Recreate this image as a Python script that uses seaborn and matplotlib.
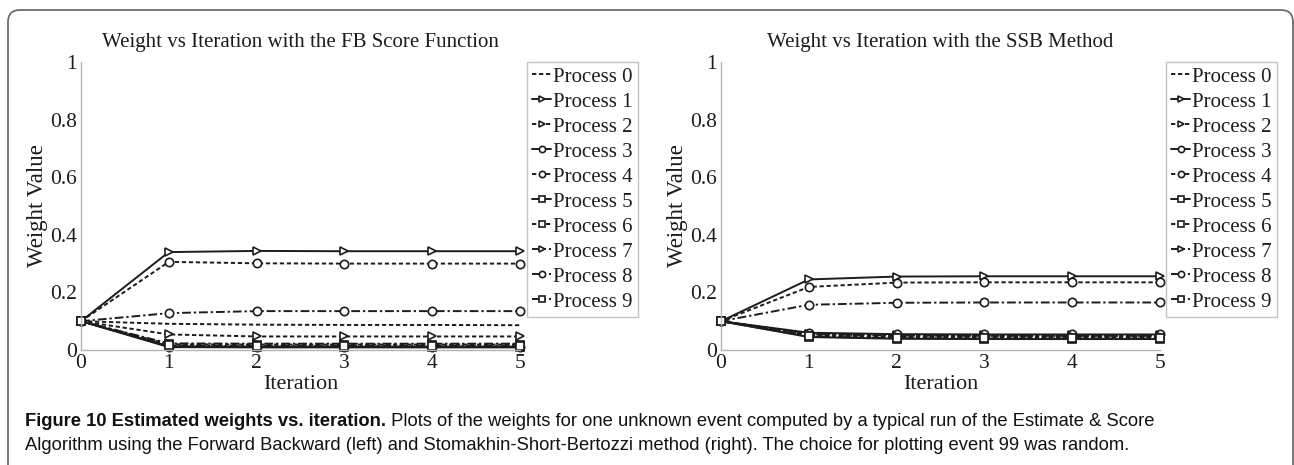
import matplotlib
matplotlib.use("Agg")
import matplotlib.pyplot as plt
import matplotlib.transforms as mtransforms
from matplotlib.patches import FancyBboxPatch
import seaborn as sns
import pandas as pd

# ---------------------------------------------------------------- data
iterations = [0, 1, 2, 3, 4, 5]
process_labels = [f"Process {i}" for i in range(10)]

# Forward-Backward score function
fb_weights = [
    [0.100, 0.091, 0.088, 0.087, 0.087, 0.086],
    [0.100, 0.340, 0.344, 0.343, 0.343, 0.343],
    [0.100, 0.054, 0.047, 0.047, 0.047, 0.047],
    [0.100, 0.010, 0.009, 0.009, 0.009, 0.009],
    [0.100, 0.306, 0.301, 0.300, 0.300, 0.300],
    [0.100, 0.013, 0.012, 0.012, 0.012, 0.012],
    [0.100, 0.020, 0.019, 0.019, 0.019, 0.019],
    [0.100, 0.023, 0.022, 0.022, 0.022, 0.022],
    [0.100, 0.128, 0.135, 0.135, 0.135, 0.135],
    [0.100, 0.016, 0.015, 0.015, 0.015, 0.015],
]

# Stomakhin-Short-Bertozzi method
ssb_weights = [
    [0.100, 0.052, 0.047, 0.046, 0.046, 0.046],
    [0.100, 0.245, 0.255, 0.256, 0.256, 0.256],
    [0.100, 0.057, 0.052, 0.051, 0.051, 0.051],
    [0.100, 0.060, 0.055, 0.054, 0.054, 0.054],
    [0.100, 0.219, 0.234, 0.235, 0.235, 0.235],
    [0.100, 0.045, 0.039, 0.038, 0.038, 0.038],
    [0.100, 0.049, 0.043, 0.042, 0.042, 0.042],
    [0.100, 0.055, 0.050, 0.049, 0.049, 0.049],
    [0.100, 0.157, 0.164, 0.165, 0.165, 0.165],
    [0.100, 0.047, 0.041, 0.040, 0.040, 0.040],
]

titles = ["Weight vs Iteration with the FB Score Function",
          "Weight vs Iteration with the SSB Method"]

caption_bold = "Figure 10 Estimated weights vs. iteration."
caption_rest = (" Plots of the weights for one unknown event computed by a typical run of the Estimate & Score")
caption_line2 = ("Algorithm using the Forward Backward (left) and Stomakhin-Short-Bertozzi method (right). "
                 "The choice for plotting event 99 was random.")

# ---------------------------------------------------------------- styles
DOT = (2.2, 1.4)
DASHDOT = (4.5, 1.5, 1.2, 1.5)
line_dashes = [DOT, None, DOT, None, DOT, None, DOT, DASHDOT, DASHDOT, DASHDOT]
line_markers = [None, ">", ">", "o", "o", "s", "s", ">", "o", "s"]
INK = "#1c1c1c"
AXIS_GREY = "#b4b4b4"

sns.set_style("white")
plt.rcParams["font.family"] = ["Liberation Serif", "DejaVu Serif"]
plt.rcParams["mathtext.default"] = "regular"

W, H = 1294, 465
fig = plt.figure(figsize=(W / 100, H / 100), dpi=100)
fig.patch.set_facecolor("white")


def px_axes(x0, x1, y_top, y_bot):
    return [x0 / W, 1 - y_bot / H, (x1 - x0) / W, (y_bot - y_top) / H]


panels = [
    (fb_weights, px_axes(81, 520, 62, 350), 527),
    (ssb_weights, px_axes(721, 1160, 62, 350), 1166),
]

for (weights, rect, leg_x), title in zip(panels, titles):
    ax = fig.add_axes(rect)
    for label, series, dash, marker in zip(process_labels, weights, line_dashes, line_markers):
        df = pd.DataFrame({"Iteration": iterations, "Weight": series})
        sns.lineplot(
            data=df, x="Iteration", y="Weight", ax=ax, label=label,
            color=INK, lw=1.4, marker=marker if marker else "",
            markersize=6, markeredgewidth=1.2, markerfacecolor="white",
            markeredgecolor=INK, clip_on=False, legend=False,
        )
        line = ax.lines[-1]
        if dash is not None:
            line.set_dashes(dash)
    ax.set_xlim(0, 5)
    ax.set_ylim(0, 1)
    ax.set_xticks(iterations)
    ax.set_xticklabels([str(i) for i in iterations])
    ax.set_yticks([0, 0.2, 0.4, 0.6, 0.8, 1.0])
    ax.set_yticklabels(["0", "0.2", "0.4", "0.6", "0.8", "1"])
    ax.tick_params(direction="in", length=4, width=0.8, color=AXIS_GREY,
                   labelsize=15.5, labelcolor=INK, pad=3)
    for side in ("top", "right"):
        ax.spines[side].set_visible(False)
    for side in ("left", "bottom"):
        ax.spines[side].set_color(AXIS_GREY)
        ax.spines[side].set_linewidth(1.0)
    ax.set_xlabel("Iteration", fontsize=16, color=INK, labelpad=1)
    ax.set_ylabel("Weight Value", fontsize=16.5, color=INK, labelpad=1.5)
    ax.set_title(title, fontsize=15, color=INK, pad=11)

    handles = ax.lines[:len(process_labels)]
    leg = ax.legend(
        handles, process_labels, loc="upper left",
        bbox_to_anchor=(leg_x / W, 1 - 62 / H), bbox_transform=fig.transFigure,
        borderaxespad=0, fontsize=15, handlelength=0.9, handletextpad=0.1,
        labelspacing=0.26, borderpad=0.25, markerscale=0.75, frameon=True,
        fancybox=False,
    )
    leg.get_frame().set_edgecolor(AXIS_GREY)
    leg.get_frame().set_linewidth(1.0)
    for t in leg.get_texts():
        t.set_color(INK)

# Rounded panel border, open at the bottom edge
border = FancyBboxPatch(
    (8, -30), 1285, 455 + 30, boxstyle="round,pad=0,rounding_size=12",
    transform=mtransforms.IdentityTransform(), facecolor="none",
    edgecolor="#6e6e6e", linewidth=1.3, zorder=0,
)
fig.patches.append(border)

# Caption: two lines, the first starting with a bold lead-in, sized to the panel width
cap_family = ["Liberation Sans", "DejaVu Sans"]
cap_left, cap_right = 25, 1163
fig.canvas.draw()
renderer = fig.canvas.get_renderer()


def set_caption(size):
    tb = fig.text(cap_left / W, 1 - 421 / H, caption_bold, fontsize=size, fontweight="bold",
                  family=cap_family, va="center", ha="left", color="#111111")
    bb = tb.get_window_extent(renderer)
    tr = fig.text(bb.x1 / W, 1 - 421 / H, caption_rest, fontsize=size,
                  family=cap_family, va="center", ha="left", color="#111111")
    return tb, tr


cap_size = 11.5
tb, tr = set_caption(cap_size)
right = tr.get_window_extent(renderer).x1
tb.remove()
tr.remove()
cap_size *= (cap_right - cap_left) / (right - cap_left)
set_caption(cap_size)
fig.text(cap_left / W, 1 - 445 / H, caption_line2, fontsize=cap_size,
         family=cap_family, va="center", ha="left", color="#111111")

fig.savefig("out.png", dpi=100)
